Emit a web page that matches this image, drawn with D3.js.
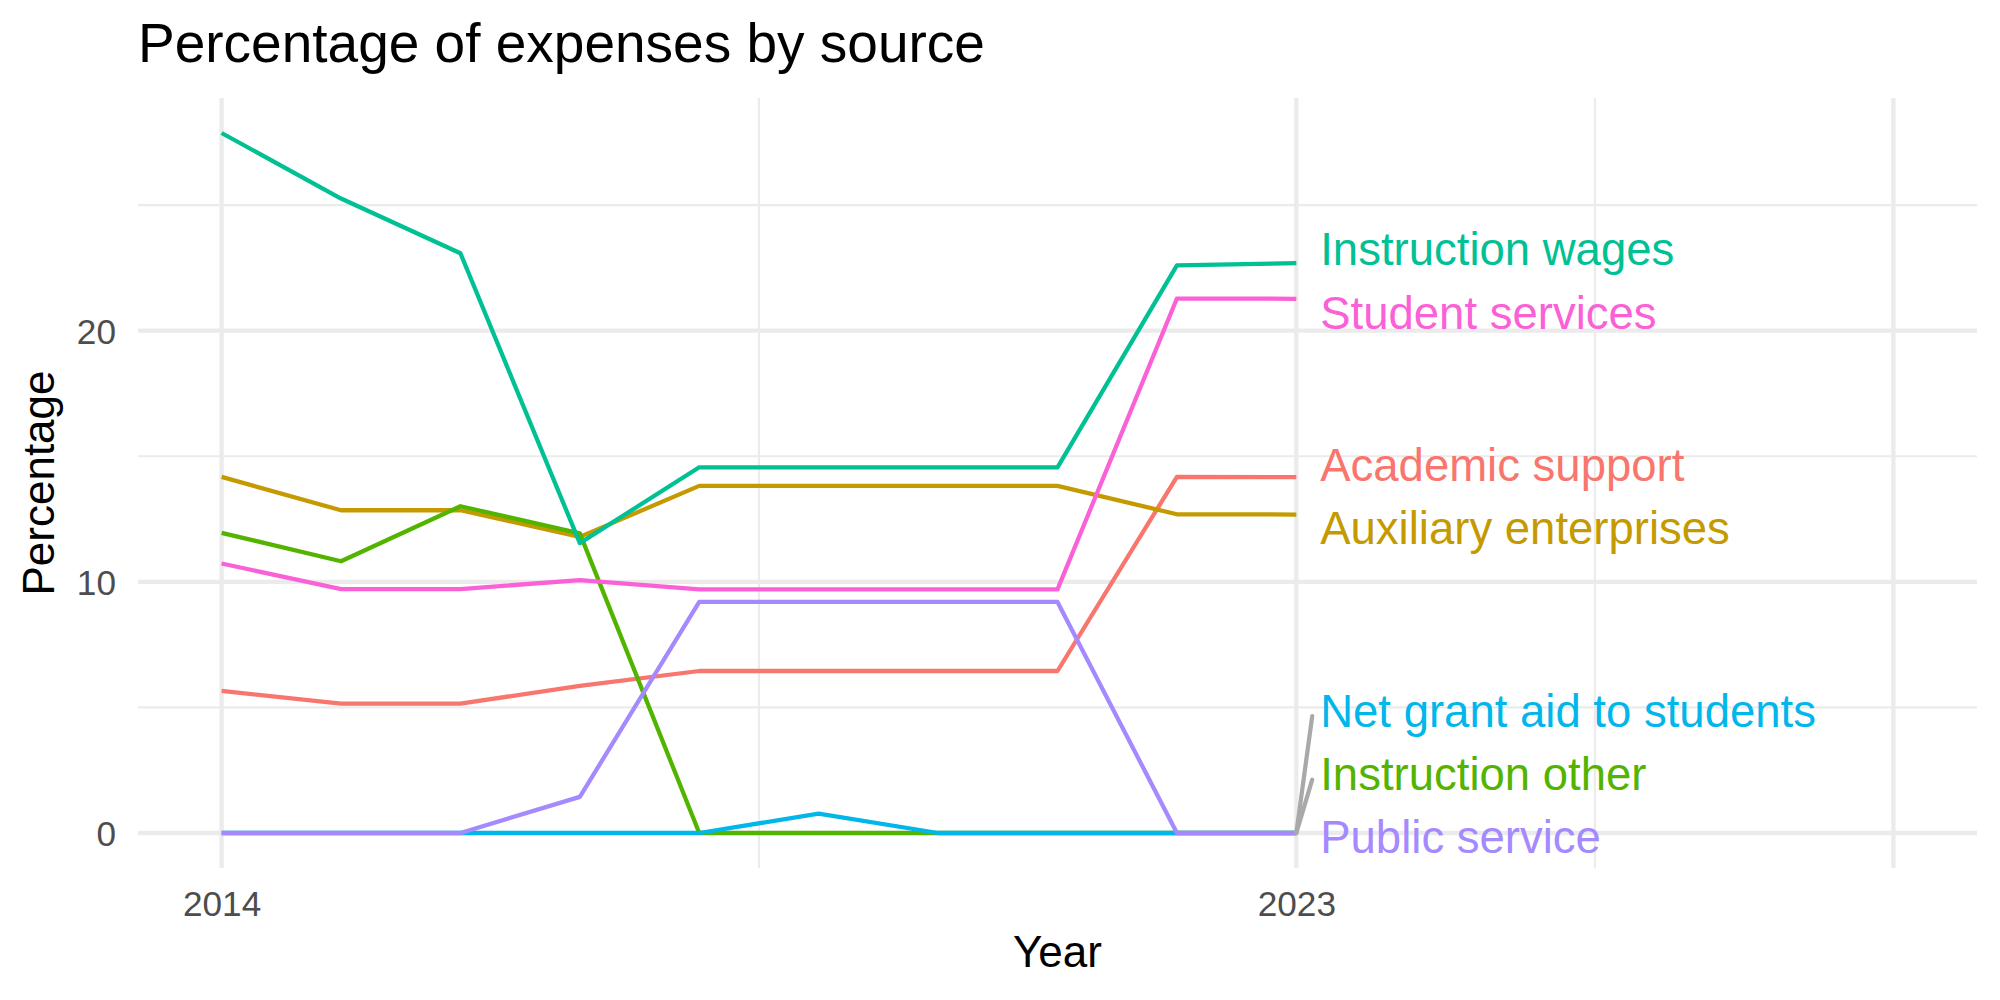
<!DOCTYPE html>
<html>
<head>
<meta charset="utf-8">
<script src="https://cdn.jsdelivr.net/npm/d3@7"></script>
<style>
  html, body { margin: 0; padding: 0; background: #fff; }
  #chart-container { width: 2000px; height: 1000px; }
  text { font-family: "Liberation Sans", Arial, Helvetica, sans-serif; }
</style>
</head>
<body>
<div id="chart-container"></div>
<script>
// line chart — percentage of expenses by source, labels at the line ends

// years on the x axis
const years = [2014, 2015, 2016, 2017, 2018, 2019, 2020, 2021, 2022, 2023];

// series names (alphabetical, same order as ggplot draws them)
const sources = [
  'Academic support',
  'Auxiliary enterprises',
  'Instruction other',
  'Instruction wages',
  'Net grant aid to students',
  'Public service',
  'Student services',
];

// values per series, one per year
const academicSupport      = [5.66, 5.15, 5.15, 5.86, 6.45, 6.45, 6.45, 6.45, 14.18, 14.17];
const auxiliaryEnterprises = [14.18, 12.85, 12.85, 11.79, 13.82, 13.82, 13.82, 13.82, 12.69, 12.68];
const instructionOther     = [11.95, 10.82, 13.01, 11.93, 0, 0, 0, 0, 0, 0];
const instructionWages     = [27.87, 25.26, 23.08, 11.54, 14.56, 14.56, 14.56, 14.56, 22.60, 22.69];
const netGrantAid          = [0, 0, 0, 0, 0, 0.77, 0, 0, 0, 0];
const publicService        = [0, 0, 0, 1.44, 9.20, 9.20, 9.20, 9.20, 0, 0];
const studentServices      = [10.73, 9.71, 9.71, 10.07, 9.70, 9.70, 9.70, 9.70, 21.28, 21.27];

// where the (repelled) end labels ended up, in percentage units
const labelPositions = [14.66, 12.14, 2.36, 23.25, 4.89, -0.14, 20.71];

// axis breaks
const xBreaks = [2014, 2023, 2028];
const xBreakLabels = ['2014', '2023', ''];
const xMinorBreaks = [2018.5, 2025.5];
const yBreaks = [0, 10, 20];
const yMinorBreaks = [5, 15, 25];
const xLimits = [2014, 2028];

const CONFIG = {
    WIDTH: 2000,
    HEIGHT: 1000,

    // panel box (px)
    PANEL_LEFT: 138,
    PANEL_RIGHT: 1977,
    PANEL_TOP: 98,
    PANEL_BOTTOM: 868,

    EXPAND: 0.05,           // ggplot default expansion

    COLORS: ['#F8766D', '#C49A00', '#53B400', '#00C094', '#00B6EB', '#A58AFF', '#FB61D7'],
    GRID_COLOR: '#EBEBEB',
    AXIS_TEXT_COLOR: '#4D4D4D',
    SEGMENT_COLOR: '#A9A9A9',

    LINE_WIDTH: 4.27,
    GRID_MAJOR_WIDTH: 4.27,
    GRID_MINOR_WIDTH: 2.13,

    TITLE_SIZE: 55,
    AXIS_TITLE_SIZE: 44,
    AXIS_TEXT_SIZE: 35.2,
    LABEL_SIZE: 45.5,

    LABEL_NUDGE: 0.2,       // years to the right of the last point
};

const seriesValues = [
  academicSupport, auxiliaryEnterprises, instructionOther, instructionWages,
  netGrantAid, publicService, studentServices,
];

// build one object per series for d3 binding
const series = sources.map((name, i) => ({
    name,
    color: CONFIG.COLORS[i],
    labelY: labelPositions[i],
    points: years.map((year, j) => ({ year, value: seriesValues[i][j] })),
}));

let svg, xScale, yScale;

function expand([lo, hi]) {
    const pad = (hi - lo) * CONFIG.EXPAND;
    return [lo - pad, hi + pad];
}

function initChart() {
    svg = d3.select('#chart-container')
      .append('svg')
      .attr('width', CONFIG.WIDTH)
      .attr('height', CONFIG.HEIGHT);

    xScale = d3.scaleLinear()
      .domain(expand(xLimits))
      .range([CONFIG.PANEL_LEFT, CONFIG.PANEL_RIGHT]);

    const allValues = seriesValues.flat();
    yScale = d3.scaleLinear()
      .domain(expand([d3.min(allValues), d3.max(allValues)]))
      .range([CONFIG.PANEL_BOTTOM, CONFIG.PANEL_TOP]);

    drawGrid();
    drawAxes();
    drawLines();
    drawLabels();
    drawTitles();
}

// theme_minimal style grid (no axis lines, no ticks)
function drawGrid() {
    const g = svg.append('g').attr('class', 'grid');

    g.selectAll('line.y-minor')
      .data(yMinorBreaks)
      .join('line')
      .attr('x1', CONFIG.PANEL_LEFT).attr('x2', CONFIG.PANEL_RIGHT)
      .attr('y1', d => yScale(d)).attr('y2', d => yScale(d))
      .attr('stroke', CONFIG.GRID_COLOR)
      .attr('stroke-width', CONFIG.GRID_MINOR_WIDTH);

    g.selectAll('line.x-minor')
      .data(xMinorBreaks)
      .join('line')
      .attr('x1', d => xScale(d)).attr('x2', d => xScale(d))
      .attr('y1', CONFIG.PANEL_TOP).attr('y2', CONFIG.PANEL_BOTTOM)
      .attr('stroke', CONFIG.GRID_COLOR)
      .attr('stroke-width', CONFIG.GRID_MINOR_WIDTH);

    g.selectAll('line.y-major')
      .data(yBreaks)
      .join('line')
      .attr('x1', CONFIG.PANEL_LEFT).attr('x2', CONFIG.PANEL_RIGHT)
      .attr('y1', d => yScale(d)).attr('y2', d => yScale(d))
      .attr('stroke', CONFIG.GRID_COLOR)
      .attr('stroke-width', CONFIG.GRID_MAJOR_WIDTH);

    g.selectAll('line.x-major')
      .data(xBreaks)
      .join('line')
      .attr('x1', d => xScale(d)).attr('x2', d => xScale(d))
      .attr('y1', CONFIG.PANEL_TOP).attr('y2', CONFIG.PANEL_BOTTOM)
      .attr('stroke', CONFIG.GRID_COLOR)
      .attr('stroke-width', CONFIG.GRID_MAJOR_WIDTH);
}

function drawAxes() {
    // bottom axis: only the labels are visible
    const xAxis = d3.axisBottom(xScale)
      .tickValues(xBreaks)
      .tickFormat((d, i) => xBreakLabels[i])
      .tickSize(0)
      .tickPadding(0);

    const gx = svg.append('g')
      .attr('transform', `translate(0, ${CONFIG.PANEL_BOTTOM})`)
      .call(xAxis);
    gx.select('.domain').remove();
    gx.selectAll('text')
      .attr('dy', null)
      .attr('y', 48)
      .attr('font-family', null)
      .attr('font-size', CONFIG.AXIS_TEXT_SIZE)
      .attr('fill', CONFIG.AXIS_TEXT_COLOR);

    const yAxis = d3.axisLeft(yScale)
      .tickValues(yBreaks)
      .tickSize(0)
      .tickPadding(22);

    const gy = svg.append('g')
      .attr('transform', `translate(${CONFIG.PANEL_LEFT}, 0)`)
      .call(yAxis);
    gy.select('.domain').remove();
    gy.selectAll('text')
      .attr('dy', '0.36em')
      .attr('font-family', null)
      .attr('font-size', CONFIG.AXIS_TEXT_SIZE)
      .attr('fill', CONFIG.AXIS_TEXT_COLOR);
}

function drawLines() {
    const line = d3.line()
      .x(d => xScale(d.year))
      .y(d => yScale(d.value));

    svg.append('g')
      .attr('class', 'lines')
      .selectAll('path')
      .data(series, d => d.name)
      .join('path')
      .attr('d', d => line(d.points))
      .attr('fill', 'none')
      .attr('stroke', d => d.color)
      .attr('stroke-width', CONFIG.LINE_WIDTH)
      .attr('stroke-linejoin', 'round');
}

// end labels with the repel segments for the ones pushed far away
function drawLabels() {
    const lastYear = years[years.length - 1];
    const labelX = xScale(lastYear + CONFIG.LABEL_NUDGE);
    const g = svg.append('g').attr('class', 'labels');

    const moved = series.filter(d => Math.abs(d.labelY - d.points[d.points.length - 1].value) > 1.5);

    g.selectAll('line.segment')
      .data(moved)
      .join('line')
      .attr('x1', xScale(lastYear))
      .attr('y1', d => yScale(d.points[d.points.length - 1].value))
      .attr('x2', labelX - 8)
      .attr('y2', d => yScale(d.labelY) + 6)
      .attr('stroke', CONFIG.SEGMENT_COLOR)
      .attr('stroke-width', CONFIG.LINE_WIDTH)
      .attr('stroke-linecap', 'round');

    g.selectAll('text')
      .data(series)
      .join('text')
      .attr('x', labelX)
      .attr('y', d => yScale(d.labelY))
      .attr('dy', '0.36em')
      .attr('font-size', CONFIG.LABEL_SIZE)
      .attr('fill', d => d.color)
      .text(d => d.name);
}

function drawTitles() {
    svg.append('text')
      .attr('x', CONFIG.PANEL_LEFT)
      .attr('y', 62)
      .attr('font-size', CONFIG.TITLE_SIZE)
      .attr('fill', '#000')
      .text('Percentage of expenses by source');

    svg.append('text')
      .attr('x', (CONFIG.PANEL_LEFT + CONFIG.PANEL_RIGHT) / 2)
      .attr('y', 967)
      .attr('text-anchor', 'middle')
      .attr('font-size', CONFIG.AXIS_TITLE_SIZE)
      .attr('fill', '#000')
      .text('Year');

    svg.append('text')
      .attr('transform', `translate(54, ${(CONFIG.PANEL_TOP + CONFIG.PANEL_BOTTOM) / 2}) rotate(-90)`)
      .attr('text-anchor', 'middle')
      .attr('font-size', CONFIG.AXIS_TITLE_SIZE)
      .attr('fill', '#000')
      .text('Percentage');
}

initChart();
</script>
</body>
</html>
